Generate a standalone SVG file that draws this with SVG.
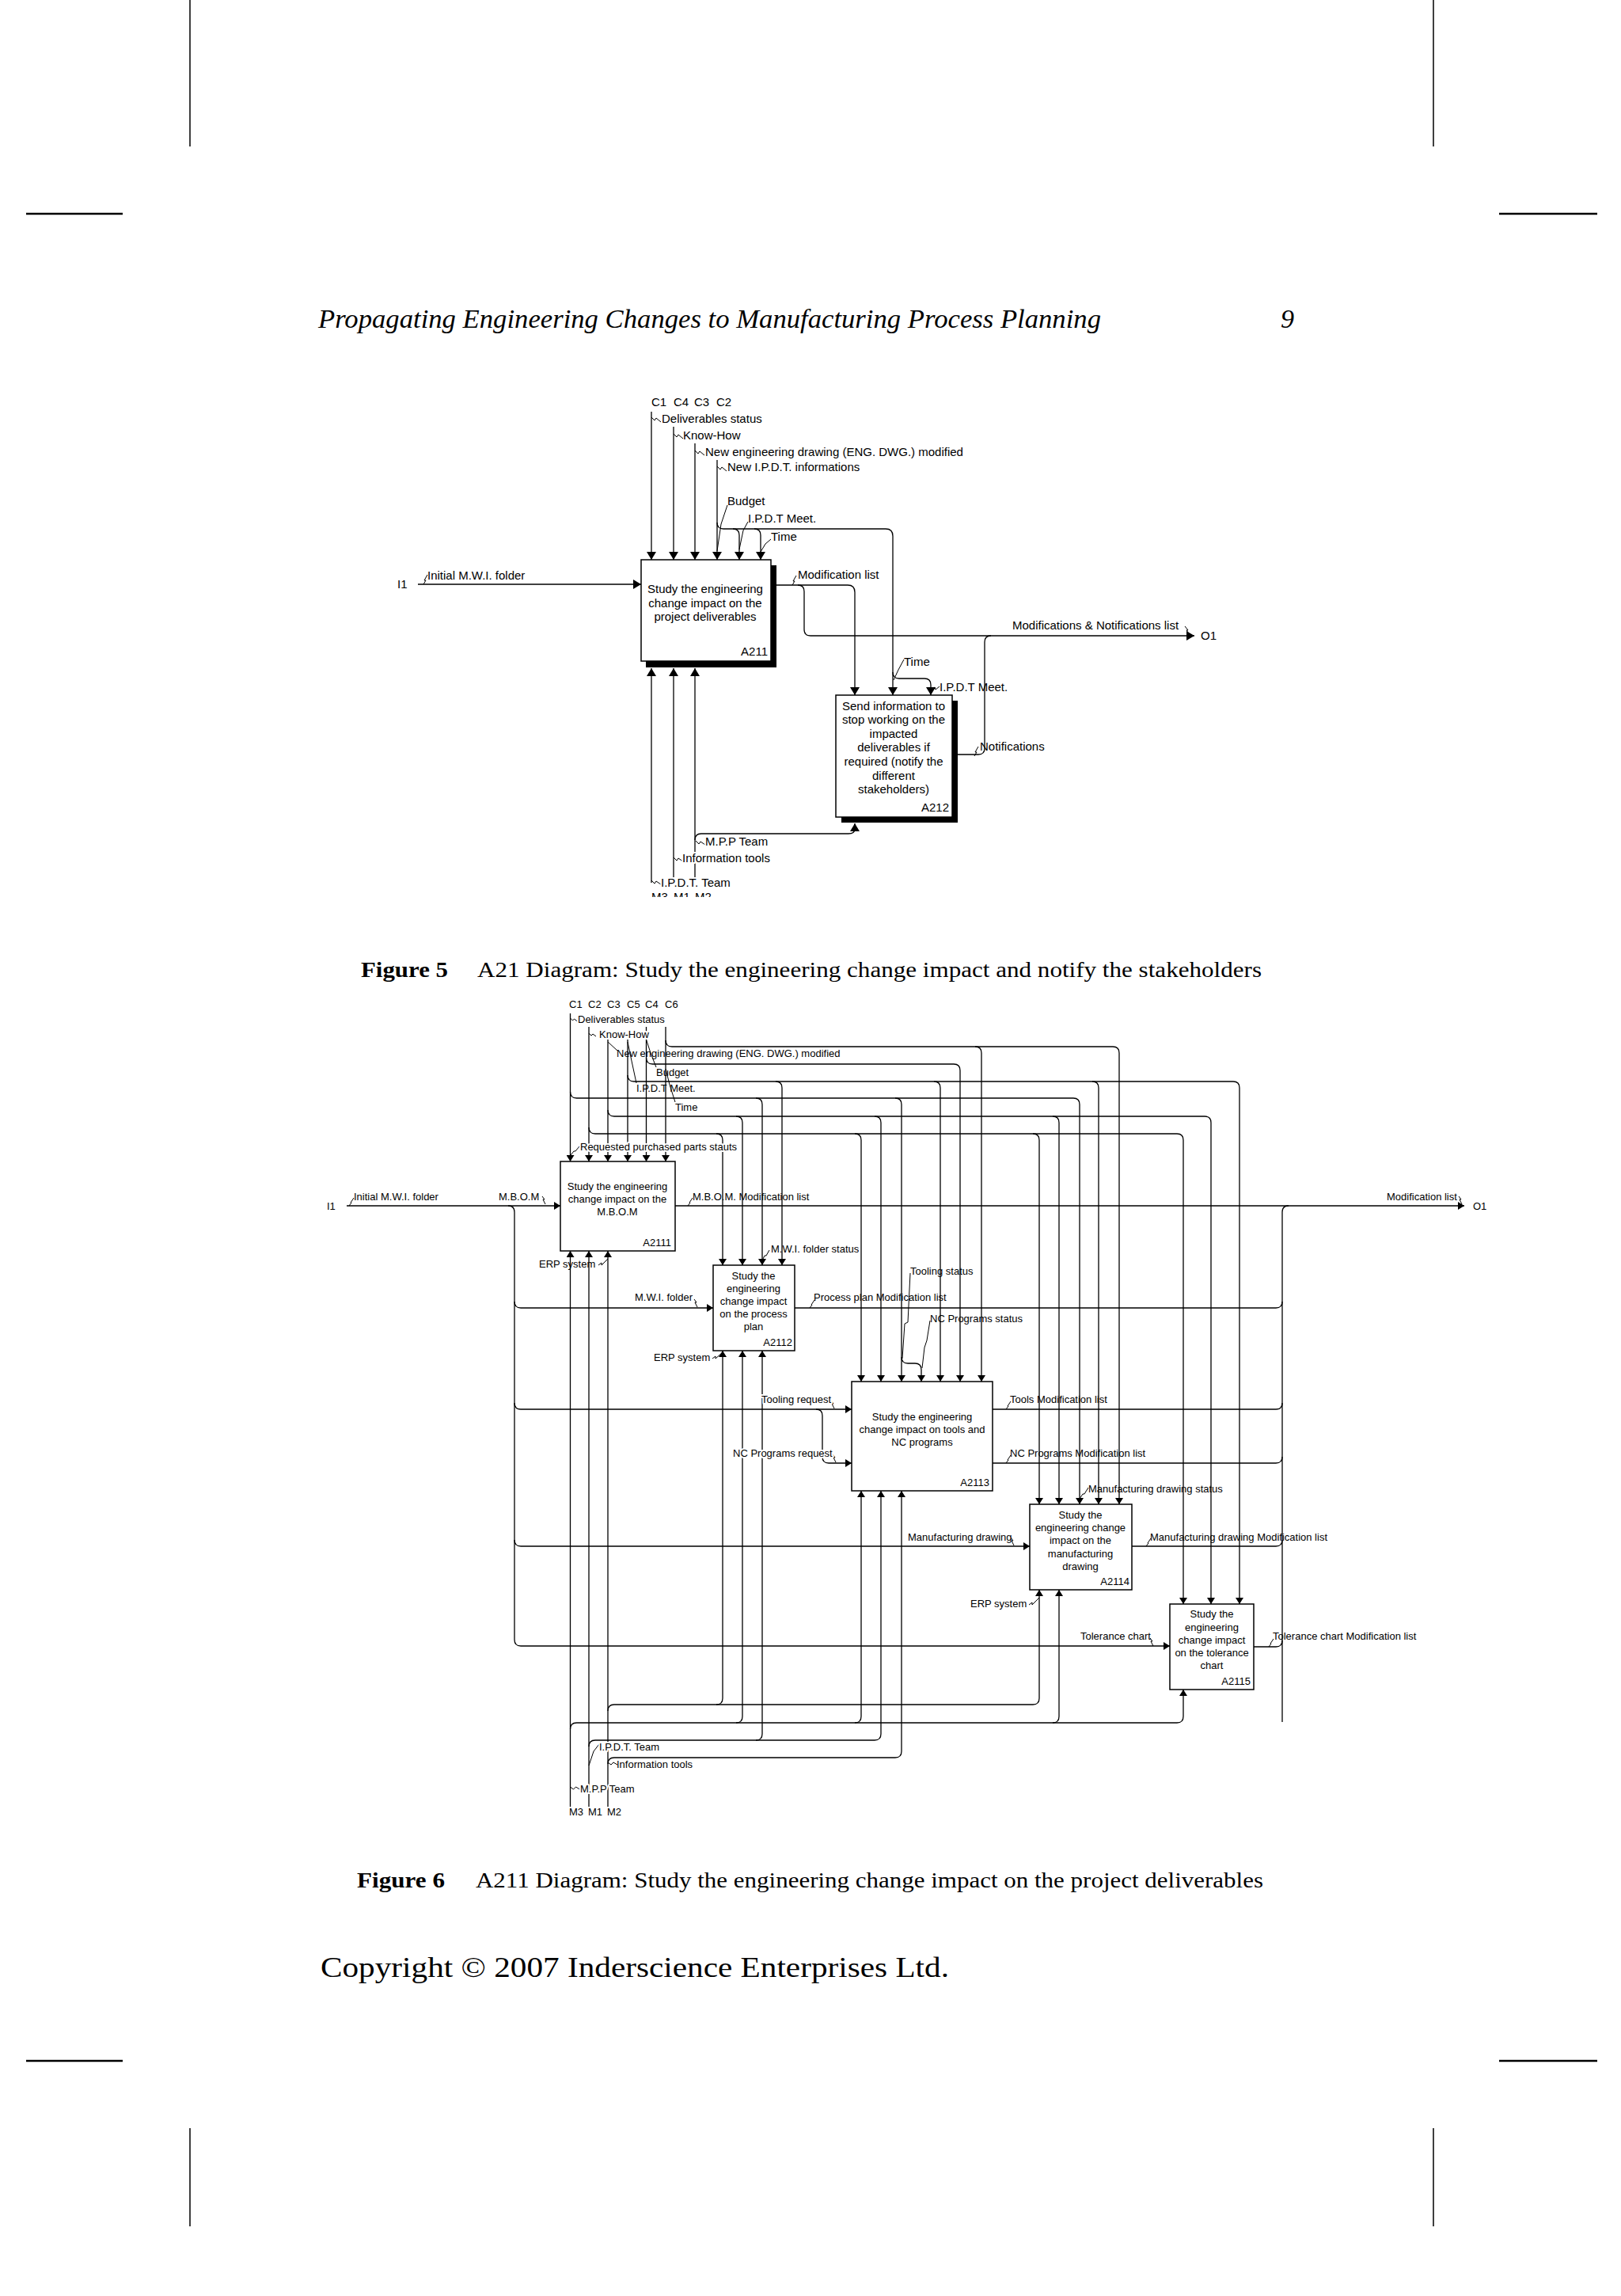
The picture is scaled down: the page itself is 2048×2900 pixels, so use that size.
<svg xmlns="http://www.w3.org/2000/svg" width="2048" height="2900" viewBox="0 0 2048 2900">
<style>
.ln{fill:none;stroke:#000;stroke-width:1.3}
.a5{marker-end:url(#m5)}
.a6{marker-end:url(#m6)}
.box{fill:#fff;stroke:#000;stroke-width:1.5}
.sq{fill:none;stroke:#000;stroke-width:1}
.t5{font-family:"Liberation Sans",Arial,sans-serif;font-size:15px;fill:#000}
.t6{font-family:"Liberation Sans",Arial,sans-serif;font-size:13px;fill:#000}
.c{text-anchor:middle}
.r{text-anchor:end}
.h{stroke:#fff;stroke-width:4px;paint-order:stroke;stroke-linejoin:round}
.serif{font-family:"Liberation Serif","Times New Roman",serif;fill:#000}
.mark{stroke:#000;fill:none}
</style>
<defs>
<marker id="m5" viewBox="0 0 10 10" refX="10" refY="5" markerWidth="10" markerHeight="12" markerUnits="userSpaceOnUse" orient="auto" preserveAspectRatio="none"><path d="M0,0 L10,5 L0,10 z" fill="#000"/></marker>
<marker id="m6" viewBox="0 0 10 10" refX="10" refY="5" markerWidth="8" markerHeight="10" markerUnits="userSpaceOnUse" orient="auto" preserveAspectRatio="none"><path d="M0,0 L10,5 L0,10 z" fill="#000"/></marker>
<clipPath id="clipM"><rect x="800" y="1100" width="140" height="33"/></clipPath>
</defs>
<rect width="2048" height="2900" fill="#fff"/>

<g id="page">
<path class="mark" stroke-width="1.5" d="M240,0 V185 M1811,0 V185 M240,2688 V2812 M1811,2688 V2812"/>
<path class="mark" stroke-width="2.5" d="M33,270 H155 M1894,270 H2018 M33,2603 H155 M1894,2603 H2018"/>
<text class="serif" x="402" y="414" font-size="34" font-style="italic" textLength="989" lengthAdjust="spacingAndGlyphs">Propagating Engineering Changes to Manufacturing Process Planning</text>
<text class="serif" x="1618" y="414" font-size="34" font-style="italic">9</text>
<text class="serif" x="456" y="1234" font-size="27" font-weight="bold" textLength="110" lengthAdjust="spacingAndGlyphs">Figure 5</text>
<text class="serif" x="603" y="1234" font-size="27" textLength="991" lengthAdjust="spacingAndGlyphs">A21 Diagram: Study the engineering change impact and notify the stakeholders</text>
<text class="serif" x="451" y="2384" font-size="27" font-weight="bold" textLength="111" lengthAdjust="spacingAndGlyphs">Figure 6</text>
<text class="serif" x="601" y="2384" font-size="27" textLength="995" lengthAdjust="spacingAndGlyphs">A211 Diagram: Study the engineering change impact on the project deliverables</text>
<text class="serif" x="405" y="2497" font-size="36" textLength="794" lengthAdjust="spacingAndGlyphs">Copyright © 2007 Inderscience Enterprises Ltd.</text>
</g>

<!-- ================= FIGURE 5 ================= -->
<g id="fig5-connectors">
<path class="ln a5" d="M823,520 V707"/>
<path class="ln a5" d="M851,539 V707"/>
<path class="ln a5" d="M878,560 V707"/>
<path class="ln a5" d="M906,581 V707"/>
<path class="ln a5" d="M906,660 Q906,668 914,668 H1119 Q1128,668 1128,677 V878"/>
<path class="ln a5" d="M926,668 Q934,668 934,676 V707"/>
<path class="ln a5" d="M953,668 Q961,668 961,676 V707"/>
<path class="ln a5" d="M1128,849 Q1128,857 1136,857 H1168 Q1176,857 1176,865 V878"/>
<path class="ln a5" d="M528,738 H810"/>
<path class="ln a5" d="M981,739 H1071 Q1080,739 1080,748 V878"/>
<path class="ln a5" d="M1008,739 Q1016,739 1016,747 V795 Q1016,803 1024,803 H1509"/>
<path class="ln" d="M1210,953 H1236 Q1244,953 1244,945 V811 Q1244,803 1252,803"/>
<path class="ln a5" d="M823,1115 V844"/>
<path class="ln a5" d="M851,1108 V844"/>
<path class="ln a5" d="M878,1108 V844"/>
<path class="ln a5" d="M878,1061 Q878,1053 886,1053 H1072 Q1080,1053 1080,1047 V1040"/>
<!-- squiggles / leaders -->
<path class="sq" d="M823,527 l4,4 l2,-3 l6,5"/>
<path class="sq" d="M851,548 l4,4 l2,-3 l6,5"/>
<path class="sq" d="M878,569 l4,4 l2,-3 l6,5"/>
<path class="sq" d="M906,589 l4,4 l2,-3 l6,5"/>
<path class="sq" d="M906,696 L911,662 L919,638"/>
<path class="sq" d="M934,694 L939,670 L945,659"/>
<path class="sq" d="M961,697 L967,687 L974,681"/>
<path class="sq" d="M535,738 l3,-5 l-2,0 l4,-7"/>
<path class="sq" d="M1001,739 l3,-5 l-2,0 l4,-7"/>
<path class="sq" d="M1497,791 l4,5 l-2,0 l4,6"/>
<path class="sq" d="M1231,955 l3,-5 l-2,0 l4,-7"/>
<path class="sq" d="M1129,859 L1135,846 L1142,833"/>
<path class="sq" d="M1177,871 l4,-3 l1,3 l5,-4"/>
<path class="sq" d="M879,1062 l4,4 l2,-3 l6,4"/>
<path class="sq" d="M851,1083 l4,4 l2,-3 l6,4"/>
<path class="sq" d="M823,1112 l4,4 l2,-3 l6,4"/>
</g>

<g id="fig5-A211">
<rect x="816" y="714" width="165" height="129" fill="#000"/>
<rect class="box" x="810" y="707" width="164" height="128"/>
<text class="t5 c" x="891" y="749">Study the engineering</text>
<text class="t5 c" x="891" y="767">change impact on the</text>
<text class="t5 c" x="891" y="784">project deliverables</text>
<text class="t5 r" x="970" y="828">A211</text>
</g>
<g id="fig5-A212">
<rect x="1063" y="885" width="147" height="154" fill="#000"/>
<rect class="box" x="1056" y="878" width="147" height="154"/>
<text class="t5 c" x="1129" y="897">Send information to</text>
<text class="t5 c" x="1129" y="914">stop working on the</text>
<text class="t5 c" x="1129" y="932">impacted</text>
<text class="t5 c" x="1129" y="949">deliverables if</text>
<text class="t5 c" x="1129" y="967">required (notify the</text>
<text class="t5 c" x="1129" y="985">different</text>
<text class="t5 c" x="1129" y="1002">stakeholders)</text>
<text class="t5 r" x="1199" y="1025">A212</text>
</g>
<g id="fig5-labels">
<text class="t5" x="823" y="513">C1</text>
<text class="t5" x="851" y="513">C4</text>
<text class="t5" x="877" y="513">C3</text>
<text class="t5" x="905" y="513">C2</text>
<text class="t5" x="836" y="534">Deliverables status</text>
<text class="t5" x="863" y="555">Know-How</text>
<text class="t5" x="891" y="576">New engineering drawing (ENG. DWG.) modified</text>
<text class="t5" x="919" y="595">New I.P.D.T. informations</text>
<text class="t5" x="919" y="638">Budget</text>
<text class="t5" x="945" y="660">I.P.D.T Meet.</text>
<text class="t5" x="974" y="683">Time</text>
<text class="t5" x="502" y="743">I1</text>
<text class="t5" x="540" y="732">Initial M.W.I. folder</text>
<text class="t5" x="1008" y="731">Modification list</text>
<text class="t5" x="1279" y="795">Modifications &amp; Notifications list</text>
<text class="t5" x="1517" y="808">O1</text>
<text class="t5" x="1142" y="841">Time</text>
<text class="t5" x="1187" y="873">I.P.D.T Meet.</text>
<text class="t5" x="1238" y="948">Notifications</text>
<text class="t5 h" x="891" y="1068">M.P.P Team</text>
<text class="t5 h" x="862" y="1089">Information tools</text>
<g clip-path="url(#clipM)">
<text class="t5" x="823" y="1138" font-size="14">M3</text>
<text class="t5" x="851" y="1138" font-size="14">M1</text>
<text class="t5" x="878" y="1138" font-size="14">M2</text>
</g>
<text class="t5 h" x="835" y="1120">I.P.D.T. Team</text>
</g>

<!-- ================= FIGURE 6 ================= -->
<g id="fig6-connectors">
<!-- controls down to A2111 -->
<path class="ln a6" d="M720.5,1280 V1467"/>
<path class="ln a6" d="M744,1297 V1467"/>
<path class="ln a6" d="M768,1313 V1467"/>
<path class="ln a6" d="M793,1313 V1467"/>
<path class="ln a6" d="M816.5,1297 V1467"/>
<path class="ln a6" d="M841,1297 V1467"/>
<!-- C6 -->
<path class="ln a6" d="M841,1314 Q841,1322 849,1322 H1406 Q1414,1322 1414,1330 V1900"/>
<path class="ln a6" d="M1232,1322 Q1240,1322 1240,1330 V1745"/>
<!-- C4 -->
<path class="ln a6" d="M816.5,1336 Q816.5,1344 824.5,1344 H1205 Q1213,1344 1213,1352 V1745"/>
<!-- C5 -->
<path class="ln a6" d="M793,1358 Q793,1366 801,1366 H1558 Q1566,1366 1566,1374 V2026"/>
<path class="ln a6" d="M980,1366 Q988,1366 988,1374 V1598"/>
<path class="ln a6" d="M1180,1366 Q1188,1366 1188,1374 V1745"/>
<path class="ln a6" d="M1380,1366 Q1388,1366 1388,1374 V1900"/>
<!-- C1 -->
<path class="ln a6" d="M720.5,1379 Q720.5,1387 728.5,1387 H1356 Q1364,1387 1364,1395 V1900"/>
<path class="ln a6" d="M955,1387 Q963,1387 963,1395 V1598"/>
<path class="ln a6" d="M1131,1387 Q1139,1387 1139,1395 V1745"/>
<path class="ln a6" d="M1139,1714 Q1139,1722 1147,1722 H1156 Q1164,1722 1164,1730 V1745"/>
<!-- C3 -->
<path class="ln a6" d="M768,1402 Q768,1410 776,1410 H1522 Q1530,1410 1530,1418 V2026"/>
<path class="ln a6" d="M930,1410 Q938,1410 938,1418 V1598"/>
<path class="ln a6" d="M1105,1410 Q1113,1410 1113,1418 V1745"/>
<path class="ln a6" d="M1330,1410 Q1338,1410 1338,1418 V1900"/>
<!-- C2 -->
<path class="ln a6" d="M744,1424 Q744,1432 752,1432 H1487 Q1495,1432 1495,1440 V2026"/>
<path class="ln a6" d="M905,1432 Q913,1432 913,1440 V1598"/>
<path class="ln a6" d="M1080,1432 Q1088,1432 1088,1440 V1745"/>
<path class="ln a6" d="M1305,1432 Q1313,1432 1313,1440 V1900"/>
<!-- inputs -->
<path class="ln a6" d="M438,1523 H708"/>
<path class="ln a6" d="M642,1523 Q650,1523 650,1531 V2071 Q650,2079 658,2079 H1478"/>
<path class="ln a6" d="M650,1644 Q650,1652 658,1652 H901"/>
<path class="ln a6" d="M650,1772 Q650,1780 658,1780 H1076"/>
<path class="ln a6" d="M1031,1780 Q1039,1780 1039,1788 V1840 Q1039,1848 1047,1848 H1076"/>
<path class="ln a6" d="M650,1945 Q650,1953 658,1953 H1301"/>
<!-- outputs -->
<path class="ln a6" d="M853,1523 H1850"/>
<path class="ln" d="M1004,1652 H1612 Q1620,1652 1620,1644"/>
<path class="ln" d="M1254,1780 H1612 Q1620,1780 1620,1772"/>
<path class="ln" d="M1254,1848 H1612 Q1620,1848 1620,1840"/>
<path class="ln" d="M1430,1953 H1612 Q1620,1953 1620,1945"/>
<path class="ln" d="M1584,2080 H1612 Q1620,2080 1620,2072"/>
<path class="ln" d="M1620,2175 V1531 Q1620,1523 1628,1523"/>
<!-- mechanisms -->
<path class="ln a6" d="M720.5,2282 V1580"/>
<path class="ln a6" d="M744,2282 V1580"/>
<path class="ln a6" d="M768,2282 V1580"/>
<path class="ln a6" d="M768,2161 Q768,2153 776,2153 H1305 Q1313,2153 1313,2145 V2008"/>
<path class="ln a6" d="M905,2153 Q913,2153 913,2145 V1706"/>
<path class="ln a6" d="M720.5,2184 Q720.5,2176 728.5,2176 H1487 Q1495,2176 1495,2168 V2134"/>
<path class="ln a6" d="M930,2176 Q938,2176 938,2168 V1706"/>
<path class="ln a6" d="M1080,2176 Q1088,2176 1088,2168 V1883"/>
<path class="ln a6" d="M1330,2176 Q1338,2176 1338,2168 V2008"/>
<path class="ln a6" d="M744,2206 Q744,2198 752,2198 H1105 Q1113,2198 1113,2190 V1883"/>
<path class="ln a6" d="M955,2198 Q963,2198 963,2190 V1706"/>
<path class="ln a6" d="M768,2228 Q768,2220 776,2220 H1131 Q1139,2220 1139,2212 V1883"/>
<!-- squiggles / leaders -->
<path class="sq" d="M720.5,1286 l3,3 l2,-2 l4,3"/>
<path class="sq" d="M744,1305 l3,3 l2,-2 l4,3"/>
<path class="sq" d="M768,1316 L780,1327"/>
<path class="sq" d="M816.5,1313 L822,1330 L829,1348"/>
<path class="sq" d="M793,1316 L798,1340 L804,1368"/>
<path class="sq" d="M841,1350 L846,1370 L853,1392"/>
<path class="sq" d="M721,1459 l4,-5 l2,0 l5,-6"/>
<path class="sq" d="M441,1523 l3,-4 l-1,0 l4,-6"/>
<path class="sq" d="M685,1511 l3,4 l-2,0 l3,6"/>
<path class="sq" d="M869,1523 l3,-4 l-1,0 l4,-6"/>
<path class="sq" d="M1843,1511 l3,4 l-2,0 l3,6"/>
<path class="sq" d="M963,1592 l3,-6 l2,0 l4,-7"/>
<path class="sq" d="M756,1598 l4,-3 l0,3 l8,-8"/>
<path class="sq" d="M877,1641 l3,4 l-2,0 l3,6"/>
<path class="sq" d="M1023,1652 l3,-4 l-1,0 l4,-6"/>
<path class="sq" d="M900,1716 l4,-3 l0,3 l9,-8"/>
<path class="sq" d="M1150,1608 L1147,1670 L1143,1672 L1140,1716"/>
<path class="sq" d="M1175,1668 L1171,1693 L1168,1702 L1165,1728"/>
<path class="sq" d="M1050,1769 l3,4 l-2,0 l3,6"/>
<path class="sq" d="M1052,1837 l3,4 l-2,0 l3,6"/>
<path class="sq" d="M1271,1780 l3,-4 l-1,0 l4,-6"/>
<path class="sq" d="M1271,1848 l3,-4 l-1,0 l4,-6"/>
<path class="sq" d="M1364,1893 l4,-6 l2,0 l5,-8"/>
<path class="sq" d="M1277,1942 l3,4 l-2,0 l3,6"/>
<path class="sq" d="M1448,1953 l3,-4 l-1,0 l4,-6"/>
<path class="sq" d="M1300,2027 l4,-3 l0,3 l9,-9"/>
<path class="sq" d="M1453,2069 l3,4 l-2,0 l3,6"/>
<path class="sq" d="M1603,2080 l3,-4 l-1,0 l4,-6"/>
<path class="sq" d="M720.5,2257 l4,3 l3,-3 l5,3"/>
<path class="sq" d="M768,2226 l4,3 l3,-3 l5,3"/>
<path class="sq" d="M744,2230 L750,2212 L757,2203"/>
</g>

<g id="fig6-A2111">
<rect class="box" x="708" y="1467" width="145" height="113"/>
<text class="t6 c" x="780" y="1503">Study the engineering</text>
<text class="t6 c" x="780" y="1519">change impact on the</text>
<text class="t6 c" x="780" y="1535">M.B.O.M</text>
<text class="t6 r" x="848" y="1574">A2111</text>
</g>
<g id="fig6-A2112">
<rect class="box" x="901" y="1598" width="103" height="108"/>
<text class="t6 c" x="952" y="1616">Study the</text>
<text class="t6 c" x="952" y="1632">engineering</text>
<text class="t6 c" x="952" y="1648">change impact</text>
<text class="t6 c" x="952" y="1664">on the process</text>
<text class="t6 c" x="952" y="1680">plan</text>
<text class="t6 r" x="1001" y="1700">A2112</text>
</g>
<g id="fig6-A2113">
<rect class="box" x="1076" y="1745" width="178" height="138"/>
<text class="t6 c" x="1165" y="1794">Study the engineering</text>
<text class="t6 c" x="1165" y="1810">change impact on tools and</text>
<text class="t6 c" x="1165" y="1826">NC programs</text>
<text class="t6 r" x="1250" y="1877">A2113</text>
</g>
<g id="fig6-A2114">
<rect class="box" x="1301" y="1900" width="129" height="108"/>
<text class="t6 c" x="1365" y="1918">Study the</text>
<text class="t6 c" x="1365" y="1934">engineering change</text>
<text class="t6 c" x="1365" y="1950">impact on the</text>
<text class="t6 c" x="1365" y="1967">manufacturing</text>
<text class="t6 c" x="1365" y="1983">drawing</text>
<text class="t6 r" x="1427" y="2002">A2114</text>
</g>
<g id="fig6-A2115">
<rect class="box" x="1478" y="2026" width="106" height="108"/>
<text class="t6 c" x="1531" y="2043">Study the</text>
<text class="t6 c" x="1531" y="2060">engineering</text>
<text class="t6 c" x="1531" y="2076">change impact</text>
<text class="t6 c" x="1531" y="2092">on the tolerance</text>
<text class="t6 c" x="1531" y="2108">chart</text>
<text class="t6 r" x="1580" y="2128">A2115</text>
</g>
<g id="fig6-labels">
<text class="t6" x="719" y="1273">C1</text>
<text class="t6" x="743" y="1273">C2</text>
<text class="t6" x="767" y="1273">C3</text>
<text class="t6" x="792" y="1273">C5</text>
<text class="t6" x="815" y="1273">C4</text>
<text class="t6" x="840" y="1273">C6</text>
<text class="t6 h" x="730" y="1292">Deliverables status</text>
<text class="t6 h" x="757" y="1311">Know-How</text>
<text class="t6" x="779" y="1335">New engineering drawing (ENG. DWG.) modified</text>
<text class="t6" x="829" y="1359">Budget</text>
<text class="t6" x="804" y="1379">I.P.D.T Meet.</text>
<text class="t6" x="853" y="1403">Time</text>
<text class="t6 h" x="733" y="1453">Requested purchased parts stauts</text>
<text class="t6" x="413" y="1528">I1</text>
<text class="t6" x="447" y="1516">Initial M.W.I. folder</text>
<text class="t6" x="630" y="1516">M.B.O.M</text>
<text class="t6" x="875" y="1516">M.B.O.M. Modification list</text>
<text class="t6" x="1752" y="1516">Modification list</text>
<text class="t6" x="1861" y="1528">O1</text>
<text class="t6" x="681" y="1601">ERP system</text>
<text class="t6" x="974" y="1582">M.W.I. folder status</text>
<text class="t6" x="802" y="1643">M.W.I. folder</text>
<text class="t6" x="1028" y="1643">Process plan Modification list</text>
<text class="t6" x="1150" y="1610">Tooling status</text>
<text class="t6" x="1175" y="1670">NC Programs status</text>
<text class="t6" x="826" y="1719">ERP system</text>
<text class="t6 h" x="962" y="1772">Tooling request</text>
<text class="t6 h" x="926" y="1840">NC Programs request</text>
<text class="t6" x="1276" y="1772">Tools Modification list</text>
<text class="t6" x="1276" y="1840">NC Programs Modification list</text>
<text class="t6" x="1375" y="1885">Manufacturing drawing status</text>
<text class="t6" x="1147" y="1946">Manufacturing drawing</text>
<text class="t6" x="1453" y="1946">Manufacturing drawing Modification list</text>
<text class="t6" x="1226" y="2030">ERP system</text>
<text class="t6" x="1365" y="2071">Tolerance chart</text>
<text class="t6" x="1608" y="2071">Tolerance chart Modification list</text>
<text class="t6 h" x="757" y="2211">I.P.D.T. Team</text>
<text class="t6" x="779" y="2233">Information tools</text>
<text class="t6 h" x="733" y="2264">M.P.P Team</text>
<text class="t6" x="719" y="2293">M3</text>
<text class="t6" x="743" y="2293">M1</text>
<text class="t6" x="767" y="2293">M2</text>
</g>
</svg>
